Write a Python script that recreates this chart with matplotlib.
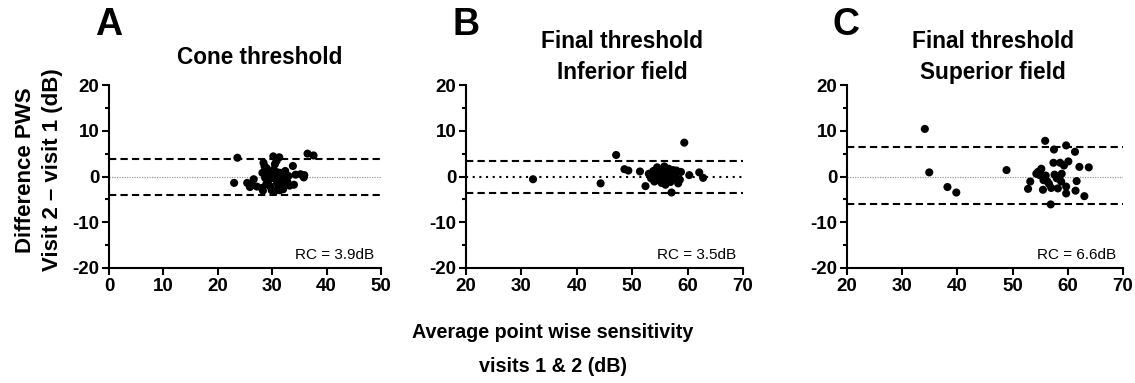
import matplotlib
matplotlib.use("Agg")
import matplotlib.pyplot as plt
from matplotlib.ticker import MultipleLocator

plt.rcParams['font.family'] = ['Liberation Sans', 'DejaVu Sans']
plt.rcParams['axes.unicode_minus'] = False

# ---------------- data ----------------
a_x = [23.6, 23.0, 25.4, 25.9, 26.3, 26.6, 28.4, 28.6, 28.2, 28.1, 28.3, 28.7, 29.2, 29.6, 29.9,
       30.2, 31.3, 30.5, 30.3, 30.0, 30.6, 30.9, 31.1, 30.4, 31.0, 31.5, 31.7, 31.9, 32.0, 32.4,
       32.6, 32.8, 33.0, 33.2, 33.8, 34.0, 34.3, 35.2, 35.8, 35.9, 36.5, 37.6, 29.0, 29.4, 29.7,
       31.4, 32.2, 28.9, 30.8, 27.2]
a_y = [4.1, -1.4, -1.4, -2.3, -1.9, -0.6, 3.0, 2.2, 0.8, -2.5, -3.1, -0.3, -1.0, -2.1, -3.0,
       4.4, 4.2, 2.7, 1.5, 0.2, -0.5, -1.4, -2.4, -3.3, 0.9, 0.8, -0.6, -1.9, -2.8, 1.2,
       -0.2, -1.2, 0.1, -2.0, 2.3, -1.8, 0.4, 0.5, -0.2, 0.3, 5.0, 4.6, 1.8, 0.6, -0.4,
       -3.0, 0.3, -1.7, 3.4, -2.2]

b_x = [32.1, 44.3, 47.1, 48.6, 49.3, 51.4, 52.4, 59.4, 57.1, 62.1, 62.8, 60.3, 58.8,
       53.0, 53.4, 53.8, 54.2, 54.5, 54.8, 55.0, 55.3, 55.5, 55.8, 56.0, 56.1, 56.4, 56.6,
       56.9, 57.1, 57.4, 57.7, 58.0, 58.3, 58.6, 55.2, 54.0, 56.3, 57.9]
b_y = [-0.6, -1.5, 4.7, 1.6, 1.3, 1.1, -2.1, 7.4, -3.5, 0.9, -0.3, 0.3, 1.0,
       0.6, -0.4, 1.2, 0.1, 2.0, -0.8, 1.1, -1.4, 0.4, 2.2, -1.8, 0.9, -0.6, 1.7,
       -1.2, 0.2, 1.4, -0.5, 1.3, -1.5, -0.7, -0.2, -1.1, 0.0, 0.6]

c_x = [34.1, 34.9, 38.2, 39.8, 48.9, 52.8, 53.2, 54.3, 55.2, 54.9, 55.6, 55.5, 55.9, 56.3,
       56.9, 57.5, 57.4, 58.6, 60.1, 59.7, 61.3, 62.1, 63.8, 63.0, 61.6, 61.4, 59.7, 59.7,
       58.2, 57.6, 58.5, 58.8, 56.6, 57.0, 55.0, 58.9, 59.3, 58.0, 56.0, 54.6]
c_y = [10.4, 0.9, -2.3, -3.5, 1.4, -2.7, -1.1, 0.6, 1.7, 0.3, -0.8, -2.9, 7.8, -1.1,
       -6.1, 5.9, 3.0, 3.0, 3.3, 6.8, 5.4, 2.1, 2.0, -4.3, -1.0, -3.1, -2.2, -3.7,
       -2.6, 0.4, 0.0, -1.1, -1.6, -2.5, 1.2, 0.6, 2.4, -0.4, 0.2, 1.0]

panel_letters = ["A", "B", "C"]
titles = ["Cone threshold", "Final threshold\nInferior field", "Final threshold\nSuperior field"]
upper_loa = [3.85, 3.4, 6.5]
lower_loa = [-4.0, -3.6, -6.0]
rc_labels = ["RC = 3.9dB", "RC = 3.5dB", "RC = 6.6dB"]
xlims = [(0, 50), (20, 70), (20, 70)]
ylabel = "Difference PWS\nVisit 2 \u2013 visit 1 (dB)"
xlabel = "Average point wise sensitivity\nvisits 1 & 2 (dB)"

# ---------------- layout ----------------
W, H = 1135, 383
fig = plt.figure(figsize=(W / 100, H / 100), dpi=100)

def fx(x):
    return x / W

def fy(y):
    return 1 - y / H

boxes = [(109, 381), (466, 743), (847, 1123)]
top, bottom = 85, 268

data = [(a_x, a_y), (b_x, b_y), (c_x, c_y)]
mid_styles = [dict(color='#9a9a9a', lw=0.9, ls=(0, (1, 1))),
              dict(color='black', lw=1.5, ls=(0, (1, 2.2))),
              dict(color='#9a9a9a', lw=0.9, ls=(0, (1, 1)))]
letter_x = [109, 466, 846]
title_x = [260, 622, 993]
title_y = [58, 57, 57]

for i in range(3):
    l, r = boxes[i]
    ax = fig.add_axes([fx(l), fy(bottom), (r - l) / W, (bottom - top) / H])
    xs, ys = data[i]
    x0, x1 = xlims[i]
    ax.set_xlim(x0, x1)
    ax.set_ylim(-20, 20)
    ax.axhline(upper_loa[i], color='black', lw=1.5, ls=(0, (3.5, 2)), zorder=1)
    ax.axhline(lower_loa[i], color='black', lw=1.5, ls=(0, (3.5, 2)), zorder=1)
    ax.axhline(0, zorder=1, **mid_styles[i])
    ax.scatter(xs, ys, s=34, color='black', edgecolors='none', zorder=3, clip_on=False)
    for s in ['top', 'right']:
        ax.spines[s].set_visible(False)
    for s in ['left', 'bottom']:
        ax.spines[s].set_linewidth(1.5)
    ax.xaxis.set_major_locator(MultipleLocator(10))
    ax.yaxis.set_major_locator(MultipleLocator(10))
    ax.yaxis.set_minor_locator(MultipleLocator(5))
    ax.tick_params(axis='both', which='major', length=5, width=1.5, labelsize=13.5, pad=2)
    ax.tick_params(axis='y', which='minor', length=3, width=1.5)
    for lab in ax.get_xticklabels() + ax.get_yticklabels():
        lab.set_fontweight('bold')
    ax.text(0.975, 0.07, rc_labels[i], transform=ax.transAxes, ha='right', va='center',
            fontsize=11)
    fig.text(fx(letter_x[i]), fy(25), panel_letters[i], ha='center', va='center',
             fontsize=27, fontweight='bold')
    fig.text(fx(title_x[i]), fy(title_y[i]), titles[i], ha='center', va='center',
             fontsize=16.3, fontweight='bold', linespacing=1.45)

fig.text(fx(39), fy(170), ylabel, rotation=90, ha='center', va='center',
         fontsize=16, fontweight='bold', linespacing=1.34)
fig.text(fx(553), fy(350), xlabel, ha='center', va='center',
         fontsize=14.2, fontweight='bold', linespacing=2.0)

fig.savefig("out.png", dpi=100)
